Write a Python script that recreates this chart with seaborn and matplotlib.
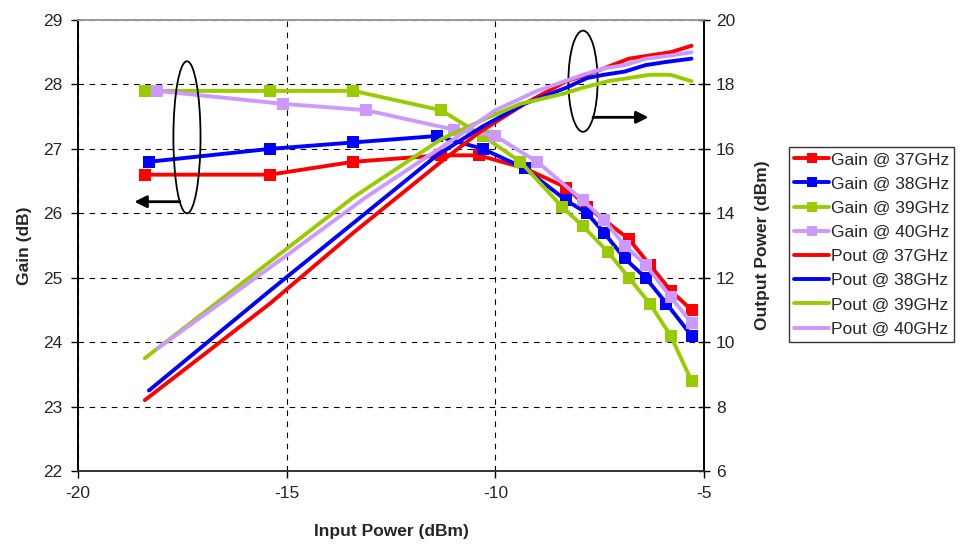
import matplotlib
matplotlib.use("Agg")
import matplotlib.pyplot as plt
from matplotlib.patches import Ellipse
from matplotlib.lines import Line2D
import seaborn as sns
import pandas as pd

sns.set_style("white")
plt.rcParams['font.family'] = ['Liberation Sans', 'DejaVu Sans']

# ---- data ----
pin_37 = [-18.4, -15.4, -13.4, -11.3, -10.4, -9.3, -8.3, -7.8, -7.4, -6.8, -6.3, -5.8, -5.3]
gain_37 = [26.6, 26.6, 26.8, 26.9, 26.9, 26.7, 26.4, 26.1, 25.9, 25.6, 25.2, 24.8, 24.5]
pout_37 = [8.2, 11.2, 13.4, 15.6, 16.5, 17.4, 18.1, 18.3, 18.5, 18.8, 18.9, 19.0, 19.2]

pin_38 = [-18.3, -15.4, -13.4, -11.4, -10.3, -9.3, -8.3, -7.8, -7.4, -6.9, -6.4, -5.9, -5.3]
gain_38 = [26.8, 27.0, 27.1, 27.2, 27.0, 26.7, 26.2, 26.0, 25.7, 25.3, 25.0, 24.6, 24.1]
pout_38 = [8.5, 11.6, 13.7, 15.8, 16.7, 17.4, 17.9, 18.2, 18.3, 18.4, 18.6, 18.7, 18.8]

pin_39 = [-18.4, -15.4, -13.4, -11.3, -10.3, -9.4, -8.4, -7.9, -7.3, -6.8, -6.3, -5.8, -5.3]
gain_39 = [27.9, 27.9, 27.9, 27.6, 27.2, 26.8, 26.1, 25.8, 25.4, 25.0, 24.6, 24.1, 23.4]
pout_39 = [9.5, 12.5, 14.5, 16.3, 16.9, 17.4, 17.7, 17.9, 18.1, 18.2, 18.3, 18.3, 18.1]

pin_40 = [-18.1, -15.1, -13.1, -11.0, -10.0, -9.0, -7.9, -7.4, -6.9, -6.4, -5.8, -5.3]
gain_40 = [27.9, 27.7, 27.6, 27.3, 27.2, 26.8, 26.2, 25.9, 25.5, 25.2, 24.7, 24.3]
pout_40 = [9.8, 12.6, 14.5, 16.3, 17.2, 17.8, 18.3, 18.5, 18.6, 18.8, 18.9, 19.0]

freqs = ["37GHz", "38GHz", "39GHz", "40GHz"]
colors = ["#FF0000", "#0000FF", "#99CC00", "#CC99FF"]
pins = [pin_37, pin_38, pin_39, pin_40]
gains = [gain_37, gain_38, gain_39, gain_40]
pouts = [pout_37, pout_38, pout_39, pout_40]

x_ticks = [-20, -15, -10, -5]
gain_ticks = [22, 23, 24, 25, 26, 27, 28, 29]
pout_ticks = [6, 8, 10, 12, 14, 16, 18, 20]

# ---- figure ----
fig = plt.figure(figsize=(9.61, 5.47), dpi=100)
ax = fig.add_axes([0.0812, 0.1389, 0.6514, 0.8245])
ax2 = ax.twinx()

FS = 12.5
LW = 2.8
MS = 8.5

handles = []
for f, c, px, g in zip(freqs, colors, pins, gains):
    df = pd.DataFrame({"pin": px, "gain": g})
    sns.lineplot(data=df, x="pin", y="gain", ax=ax, color=c, lw=LW,
                 marker="s", markersize=MS, markeredgewidth=0, zorder=3)
    handles.append(Line2D([], [], color=c, lw=LW, marker="s", markersize=7.5,
                          markeredgewidth=0, label=f"Gain @ {f}"))
for f, c, px, p in zip(freqs, colors, pins, pouts):
    df = pd.DataFrame({"pin": px, "pout": p})
    sns.lineplot(data=df, x="pin", y="pout", ax=ax2, color=c, lw=LW, zorder=3)
    handles.append(Line2D([], [], color=c, lw=LW, label=f"Pout @ {f}"))

ax.set_xlim(-20, -5)
ax.set_ylim(22, 29)
ax2.set_ylim(6, 20)
ax.set_xticks(x_ticks)
ax.set_xticklabels([str(v) for v in x_ticks])
ax.set_yticks(gain_ticks)
ax2.set_yticks(pout_ticks)

ax.grid(True, color="black", linestyle=(0, (5, 5)), lw=0.8)
ax.set_axisbelow(True)
ax2.grid(False)

ax.tick_params(axis="both", labelsize=FS, direction="out", length=5, width=1,
               color="black", left=True, bottom=True, pad=6)
ax2.tick_params(axis="y", labelsize=FS, direction="inout", length=9, width=1,
                color="black", right=True, pad=4)

for a in (ax, ax2):
    for s in a.spines.values():
        s.set_linewidth(1.2)
    a.spines["left"].set_color("black")
    a.spines["right"].set_color("black")
    a.spines["bottom"].set_color("#333333")
    a.spines["top"].set_color("#999999")

ax.set_xlabel("Input Power (dBm)", fontsize=FS, fontweight="bold", labelpad=16)
ax.set_ylabel("Gain (dB)", fontsize=FS, fontweight="bold", labelpad=8)
ax2.set_ylabel("Output Power (dBm)", fontsize=FS, fontweight="bold", labelpad=14)

# ---- ellipse / arrow annotations ----
ax.add_patch(Ellipse((-17.39, 27.18), 0.65, 2.36, fill=False, ec="black",
                     lw=1.3, zorder=5))
ax.add_patch(Ellipse((-7.90, 28.05), 0.70, 1.57, fill=False, ec="black",
                     lw=1.3, zorder=5))
ax.annotate("", xy=(-18.65, 26.18), xytext=(-17.56, 26.18),
            arrowprops=dict(arrowstyle="-|>", color="black", lw=2,
                            mutation_scale=18, shrinkA=0, shrinkB=0), zorder=5)
ax.annotate("", xy=(-6.33, 27.49), xytext=(-7.66, 27.49),
            arrowprops=dict(arrowstyle="-|>", color="black", lw=2,
                            mutation_scale=18, shrinkA=0, shrinkB=0), zorder=5)

if ax.get_legend():
    ax.get_legend().remove()
if ax2.get_legend():
    ax2.get_legend().remove()

leg = fig.legend(handles=handles, loc="upper left",
                 bbox_to_anchor=(789 / 961, 1 - 147 / 547),
                 fontsize=12.5, frameon=True, fancybox=False, edgecolor="black",
                 handlelength=2.0, handletextpad=0.1, labelspacing=0.52,
                 borderpad=0.3, borderaxespad=0)
leg.get_frame().set_linewidth(1.0)

fig.savefig("out.png", dpi=100)
